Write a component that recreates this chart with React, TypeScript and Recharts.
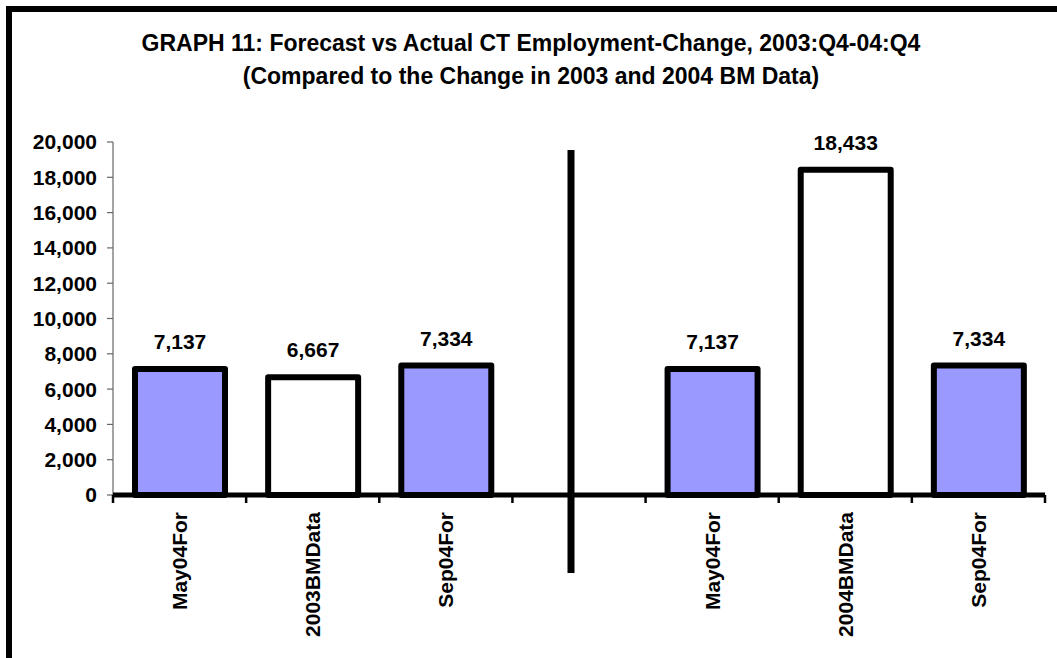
import React from "react";
import { BarChart, Bar, XAxis, YAxis, Cell, LabelList, ReferenceLine } from "recharts";

const categories = ["May04For", "2003BMData", "Sep04For", "", "May04For", "2004BMData", "Sep04For"];
const values = [7137, 6667, 7334, null, 7137, 18433, 7334];
const kinds = ["forecast", "data", "forecast", "gap", "forecast", "data", "forecast"];
const yTicks = [0, 2000, 4000, 6000, 8000, 10000, 12000, 14000, 16000, 18000, 20000];
const GAP_INDEX = 3;

const FONT = '"Liberation Sans", Arial, Helvetica, sans-serif';
const W = 1057;
const H = 658;
const MARGIN = { top: 142, right: 12, bottom: 0, left: 0 };
const Y_WIDTH = 113;
const X_HEIGHT = 163;
const BAND = (W - MARGIN.left - MARGIN.right - Y_WIDTH) / categories.length;

const data = categories.map((name, i) => ({ name, value: values[i], kind: kinds[i] }));

const fmt = (v: any) => (v == null ? "" : Number(v).toLocaleString("en-US"));

const CategoryTick = (props: any) => {
  const { x, y, payload, index } = props;
  const idx = typeof payload?.value === "number" ? payload.value : index;
  const label = categories[idx] ?? "";
  const half = BAND / 2;
  const isLast = idx === categories.length - 1;
  return (
    <g>
      <line x1={x - half} x2={x - half} y1={y} y2={y + 8} stroke="#000" strokeWidth={2.5} />
      {isLast && <line x1={x + half} x2={x + half} y1={y} y2={y + 8} stroke="#000" strokeWidth={2.5} />}
      {label && (
        <text
          x={x}
          y={y + 17}
          transform={`rotate(-90, ${x}, ${y + 17})`}
          textAnchor="end"
          dominantBaseline="central"
          fontFamily={FONT}
          fontWeight="bold"
          fontSize={21}
          fill="#000"
        >
          {label}
        </text>
      )}
    </g>
  );
};

const Separator = (p: any) => (
  <line x1={p.x1 - 8} x2={p.x2 - 8} y1={p.y1} y2={p.y2} stroke="#000" strokeWidth={7} />
);

const titleStyle: React.CSSProperties = {
  position: "absolute",
  left: 0,
  width: 1062,
  textAlign: "center",
  fontSize: 23,
  lineHeight: "23px",
  fontWeight: "bold",
  whiteSpace: "nowrap",
};

export default function App() {
  return (
    <div
      style={{
        position: "fixed",
        left: 0,
        top: 0,
        width: W,
        height: H,
        overflow: "hidden",
        background: "#fff",
        fontFamily: FONT,
      }}
    >
      {/* frame */}
      <div
        style={{
          position: "absolute",
          left: 6,
          top: 6,
          width: 1200,
          height: 800,
          borderTop: "6px solid #000",
          borderLeft: "6px solid #000",
        }}
      />

      {/* title */}
      <div style={{ ...titleStyle, top: 32 }}>
        GRAPH 11: Forecast vs Actual CT Employment-Change, 2003:Q4-04:Q4
      </div>
      <div style={{ ...titleStyle, top: 65 }}>
        (Compared to the Change in 2003 and 2004 BM Data)
      </div>

      <div style={{ position: "absolute", left: 0, top: 0 }}>
        <BarChart width={W} height={H} data={data} margin={MARGIN}>
          <YAxis
            width={Y_WIDTH}
            domain={[0, 20000]}
            ticks={yTicks}
            interval={0}
            tickFormatter={fmt}
            tick={{ fontSize: 21, fontWeight: "bold", fill: "#000", fontFamily: FONT }}
            axisLine={{ stroke: "#666", strokeWidth: 1.2 }}
            tickLine={{ stroke: "#666", strokeWidth: 1.2 }}
            tickSize={6}
            tickMargin={10}
          />
          <XAxis
            height={X_HEIGHT}
            interval={0}
            tick={<CategoryTick />}
            tickLine={false}
            tickSize={0}
            tickMargin={0}
            axisLine={{ stroke: "#000", strokeWidth: 5 }}
          />
          <ReferenceLine
            segment={[
              { x: GAP_INDEX, y: 19550 },
              { x: GAP_INDEX, y: -4420 },
            ]}
            ifOverflow="visible"
            stroke="#000"
            strokeWidth={7}
            shape={<Separator />}
          />
          <Bar
            dataKey="value"
            barSize={90}
            stroke="#000"
            strokeWidth={6}
            strokeLinejoin="round"
            isAnimationActive={false}
          >
            {data.map((d, i) => (
              <Cell key={i} fill={d.kind === "forecast" ? "#9999FF" : "#FFFFFF"} />
            ))}
            <LabelList
              dataKey="value"
              position="top"
              offset={20}
              formatter={fmt}
              fill="#000"
              fontSize={21}
              fontWeight="bold"
              fontFamily={FONT}
            />
          </Bar>
        </BarChart>
      </div>
    </div>
  );
}
